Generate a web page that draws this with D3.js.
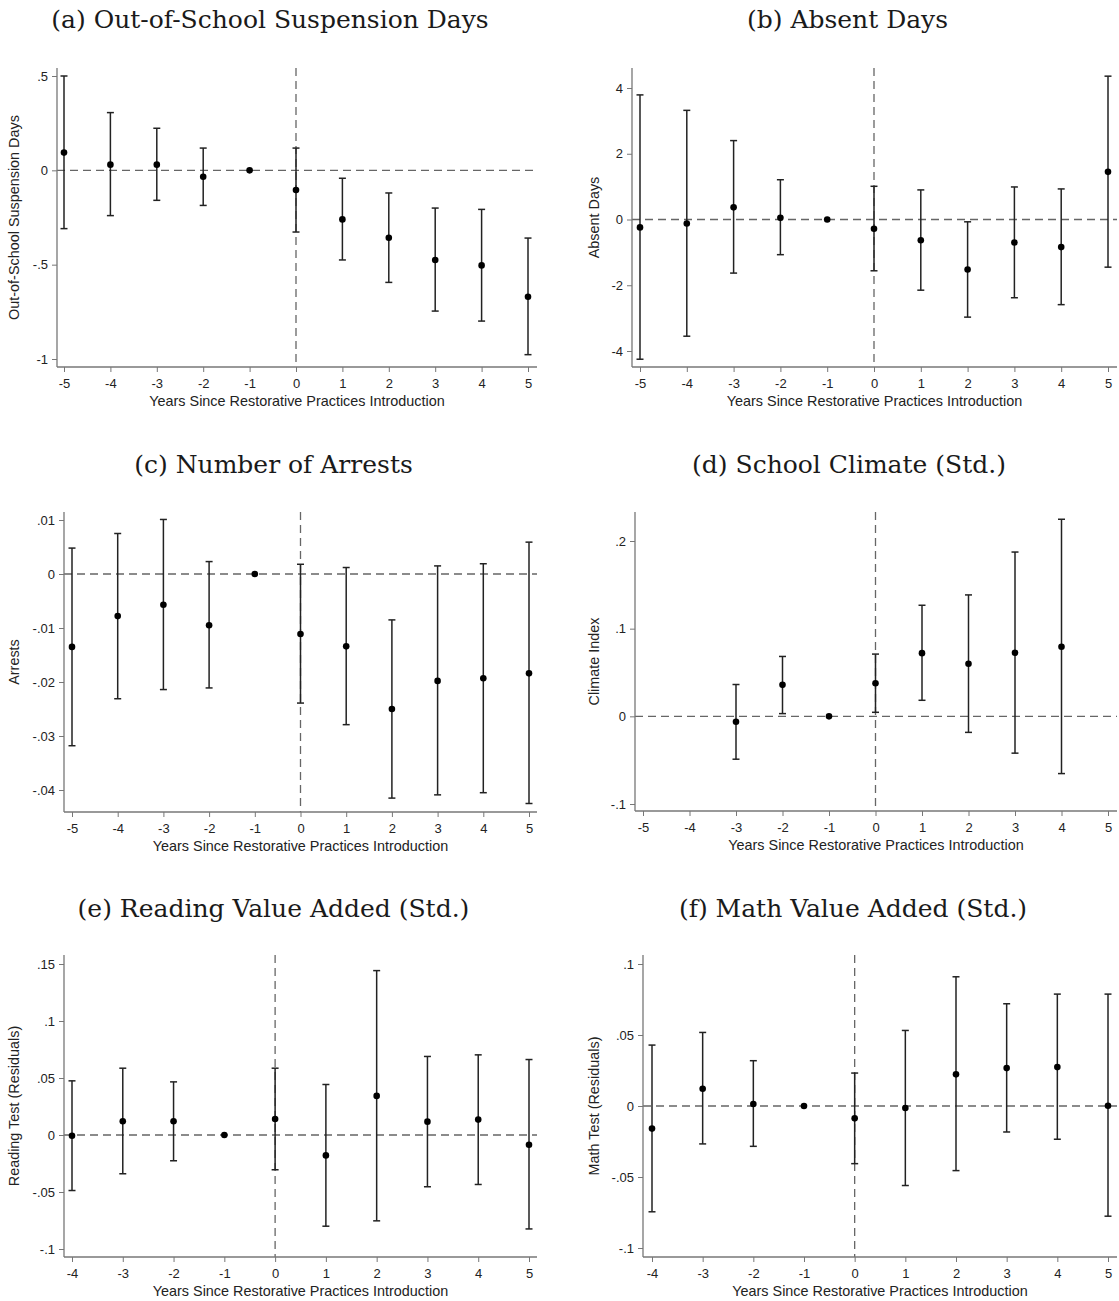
<!DOCTYPE html>
<html>
<head>
<meta charset="utf-8">
<script src="https://cdn.jsdelivr.net/npm/d3@7"></script>
<style>
  body { margin: 0; background: #fff; }
  svg { display: block; }
</style>
</head>
<body>
<div id="chart"></div>
<script>
// event-time values
var yearsFull = [-5, -4, -3, -2, -1, 0, 1, 2, 3, 4, 5];
var yearsShort = [-4, -3, -2, -1, 0, 1, 2, 3, 4, 5];

// (a) out-of-school suspension days
var suspEst = [0.094, 0.030, 0.030, -0.034, 0, -0.104, -0.260, -0.357, -0.475, -0.504, -0.670];
var suspLo  = [-0.309, -0.240, -0.159, -0.186, 0, -0.327, -0.475, -0.594, -0.746, -0.799, -0.977];
var suspHi  = [0.500, 0.306, 0.223, 0.118, 0, 0.118, -0.042, -0.120, -0.200, -0.207, -0.359];

// (b) absent days
var absEst = [-0.24, -0.12, 0.37, 0.05, 0, -0.28, -0.63, -1.52, -0.70, -0.84, 1.45];
var absLo  = [-4.25, -3.55, -1.63, -1.07, 0, -1.56, -2.15, -2.97, -2.38, -2.59, -1.45];
var absHi  = [3.79, 3.32, 2.40, 1.21, 0, 1.01, 0.90, -0.07, 0.99, 0.93, 4.36];

// (c) number of arrests
var arrEst = [-0.0135, -0.0078, -0.0057, -0.0095, 0, -0.0111, -0.0134, -0.0250, -0.0198, -0.0193, -0.0184];
var arrLo  = [-0.0318, -0.0231, -0.0214, -0.0211, 0, -0.0239, -0.0279, -0.0415, -0.0409, -0.0405, -0.0425];
var arrHi  = [0.0048, 0.0075, 0.0101, 0.0023, 0, 0.0018, 0.0012, -0.0085, 0.0015, 0.0019, 0.0059];

// (d) school climate index (no estimates at -5, -4, 5)
var climEst = [null, null, -0.0061, 0.0359, 0, 0.0378, 0.0721, 0.0599, 0.0725, 0.0794, null];
var climLo  = [null, null, -0.0489, 0.0031, 0, 0.0046, 0.0183, -0.0183, -0.0420, -0.0653, null];
var climHi  = [null, null, 0.0363, 0.0683, 0, 0.0710, 0.1267, 0.1385, 0.1874, 0.2248, null];

// (e) reading value added
var readEst = [-0.0006, 0.0120, 0.0120, 0, 0.0141, -0.0179, 0.0343, 0.0117, 0.0135, -0.0085];
var readLo  = [-0.0487, -0.0340, -0.0226, 0, -0.0305, -0.0800, -0.0753, -0.0454, -0.0434, -0.0824];
var readHi  = [0.0475, 0.0586, 0.0466, 0, 0.0586, 0.0443, 0.1442, 0.0689, 0.0703, 0.0662];

// (f) math value added
var mathEst = [-0.0159, 0.0122, 0.0014, 0, -0.0087, -0.0014, 0.0223, 0.0267, 0.0274, 0.0002];
var mathLo  = [-0.0745, -0.0267, -0.0284, 0, -0.0406, -0.0560, -0.0455, -0.0183, -0.0234, -0.0776];
var mathHi  = [0.0429, 0.0518, 0.0319, 0, 0.0232, 0.0532, 0.0910, 0.0720, 0.0788, 0.0788];

// tick labels
var suspTicks = [0.5, 0, -0.5, -1];
var absTicks = [4, 2, 0, -2, -4];
var arrTicks = [0.01, 0, -0.01, -0.02, -0.03, -0.04];
var climTicks = [0.2, 0.1, 0, -0.1];
var readTicks = [0.15, 0.1, 0.05, 0, -0.05, -0.1];
var mathTicks = [0.1, 0.05, 0, -0.05, -0.1];

var xTitle = "Years Since Restorative Practices Introduction";

function rows(years, est, lo, hi) {
    return years.map(function(yr, i) {
        return { year: yr, est: est[i], lo: lo[i], hi: hi[i] };
    }).filter(function(d) { return d.est !== null; });
}

var panels = [
    { title: "(a) Out-of-School Suspension Days", ylab: "Out-of-School Suspension Days",
      years: yearsFull, data: rows(yearsFull, suspEst, suspLo, suspHi), yTicks: suspTicks,
      left: 57, right: 537, top: 68, bottom: 367, px: [64, 528], py: [76, 359], ydom: [0.5, -1],
      titleY: 28, ylabX: 20 },
    { title: "(b) Absent Days", ylab: "Absent Days",
      years: yearsFull, data: rows(yearsFull, absEst, absLo, absHi), yTicks: absTicks,
      left: 632, right: 1117, top: 68, bottom: 367, px: [640, 1108], py: [88, 351], ydom: [4, -4],
      titleY: 28, ylabX: 600 },
    { title: "(c) Number of Arrests", ylab: "Arrests",
      years: yearsFull, data: rows(yearsFull, arrEst, arrLo, arrHi), yTicks: arrTicks,
      left: 64, right: 537, top: 512, bottom: 812, px: [72, 529], py: [520, 790], ydom: [0.01, -0.04],
      titleY: 473, ylabX: 20 },
    { title: "(d) School Climate (Std.)", ylab: "Climate Index",
      years: yearsFull, data: rows(yearsFull, climEst, climLo, climHi), yTicks: climTicks,
      left: 635, right: 1117, top: 512, bottom: 811, px: [643, 1108], py: [541, 804], ydom: [0.2, -0.1],
      titleY: 473, ylabX: 600 },
    { title: "(e) Reading Value Added (Std.)", ylab: "Reading Test (Residuals)",
      years: yearsShort, data: rows(yearsShort, readEst, readLo, readHi), yTicks: readTicks,
      left: 64, right: 537, top: 955, bottom: 1257, px: [72, 529], py: [964, 1249], ydom: [0.15, -0.1],
      titleY: 917, ylabX: 20 },
    { title: "(f) Math Value Added (Std.)", ylab: "Math Test (Residuals)",
      years: yearsShort, data: rows(yearsShort, mathEst, mathLo, mathHi), yTicks: mathTicks,
      left: 643, right: 1117, top: 955, bottom: 1257, px: [652, 1108], py: [964, 1248], ydom: [0.1, -0.1],
      titleY: 917, ylabX: 600 }
];

var svg = d3.select("#chart").append("svg")
    .attr("width", 1119)
    .attr("height", 1301)
    .style("background-color", "white");

function stataFmt(d) {
    return String(d).replace(/^(-?)0\./, "$1.");
}

panels.forEach(function(p) {
    var g = svg.append("g");
    var x = d3.scaleLinear()
        .domain([p.years[0], p.years[p.years.length - 1]])
        .range(p.px);
    var y = d3.scaleLinear()
        .domain(p.ydom)
        .range(p.py);

    // title
    g.append("text")
        .attr("x", (p.left + p.right) / 2 - 27)
        .attr("y", p.titleY)
        .attr("text-anchor", "middle")
        .style("font-family", "'DejaVu Serif', serif")
        .style("font-size", "25px")
        .style("fill", "#1a1a1a")
        .text(p.title);

    // reference lines
    g.append("line")
        .attr("x1", p.left).attr("x2", p.right)
        .attr("y1", y(0)).attr("y2", y(0))
        .attr("stroke", "#666").attr("stroke-width", 1.3)
        .attr("stroke-dasharray", "8,5");
    g.append("line")
        .attr("x1", x(0)).attr("x2", x(0))
        .attr("y1", p.top).attr("y2", p.bottom)
        .attr("stroke", "#666").attr("stroke-width", 1.3)
        .attr("stroke-dasharray", "8,5");

    // y axis
    var ya = g.append("g")
        .attr("transform", "translate(" + p.left + ",0)")
        .call(d3.axisLeft(y).tickValues(p.yTicks).tickSize(5).tickPadding(4).tickFormat(stataFmt));
    ya.select(".domain").remove();
    g.append("line")
        .attr("x1", p.left).attr("x2", p.left)
        .attr("y1", p.top).attr("y2", p.bottom)
        .attr("stroke", "#777").attr("stroke-width", 1.3);

    // x axis
    var xa = g.append("g")
        .attr("transform", "translate(0," + p.bottom + ")")
        .call(d3.axisBottom(x).tickValues(p.years)
            .tickSize(5).tickPadding(7).tickFormat(function(d) { return String(d); }));
    xa.select(".domain").remove();
    g.append("line")
        .attr("x1", p.left).attr("x2", p.right)
        .attr("y1", p.bottom).attr("y2", p.bottom)
        .attr("stroke", "#777").attr("stroke-width", 1.3);

    g.selectAll(".tick line").attr("stroke", "#777");
    g.selectAll(".tick text")
        .style("font-family", "'Liberation Sans', Arial, sans-serif")
        .style("font-size", "13px")
        .style("fill", "#222");

    // axis titles
    g.append("text")
        .attr("x", (p.left + p.right) / 2)
        .attr("y", p.bottom + 39)
        .attr("text-anchor", "middle")
        .style("font-family", "'Liberation Sans', Arial, sans-serif")
        .style("font-size", "14.4px")
        .style("fill", "#222")
        .text(xTitle);
    g.append("text")
        .attr("transform", "translate(" + (p.ylabX - 1) + "," + ((p.top + p.bottom) / 2) + ") rotate(-90)")
        .attr("text-anchor", "middle")
        .style("font-family", "'Liberation Sans', Arial, sans-serif")
        .style("font-size", "14.4px")
        .style("fill", "#222")
        .text(p.ylab);

    // confidence intervals
    var ci = p.data.filter(function(d) { return d.lo !== d.hi; });
    g.selectAll(".ci")
        .data(ci)
        .enter()
        .append("line")
            .attr("x1", function(d) { return x(d.year); })
            .attr("x2", function(d) { return x(d.year); })
            .attr("y1", function(d) { return y(d.lo); })
            .attr("y2", function(d) { return y(d.hi); })
            .attr("stroke", "#222")
            .attr("stroke-width", 1.5);
    ["lo", "hi"].forEach(function(k) {
        g.selectAll(".cap-" + k)
            .data(ci)
            .enter()
            .append("line")
                .attr("x1", function(d) { return x(d.year) - 3.5; })
                .attr("x2", function(d) { return x(d.year) + 3.5; })
                .attr("y1", function(d) { return y(d[k]); })
                .attr("y2", function(d) { return y(d[k]); })
                .attr("stroke", "#222")
                .attr("stroke-width", 1.5);
    });

    // point estimates
    g.selectAll(".pt")
        .data(p.data)
        .enter()
        .append("circle")
            .attr("cx", function(d) { return x(d.year); })
            .attr("cy", function(d) { return y(d.est); })
            .attr("r", 3.3)
            .attr("fill", "#000");
});
</script>
</body>
</html>
